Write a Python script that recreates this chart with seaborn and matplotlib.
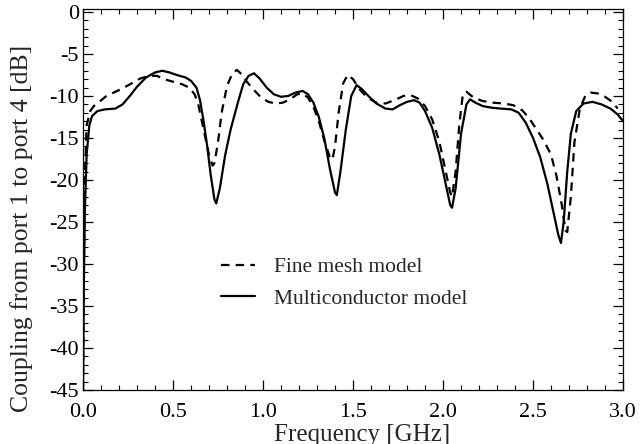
import numpy as np
import pandas as pd
import matplotlib
matplotlib.use("Agg")
import matplotlib.pyplot as plt
from matplotlib.ticker import MultipleLocator
import seaborn as sns

# values (frequency in GHz, coupling in dB)
freq_solid = [0.000, 0.005, 0.010, 0.020, 0.035, 0.05, 0.08, 0.12, 0.18, 0.22,
              0.26, 0.30, 0.35, 0.40, 0.44, 0.48, 0.52, 0.57, 0.60, 0.63,
              0.65, 0.67, 0.69, 0.71, 0.73, 0.74, 0.76, 0.79, 0.82, 0.86,
              0.89, 0.92, 0.95, 0.98, 1.02, 1.06, 1.10, 1.14, 1.18, 1.22,
              1.25, 1.28, 1.31, 1.34, 1.37, 1.40, 1.41, 1.43, 1.46, 1.49,
              1.52, 1.55, 1.59, 1.63, 1.68, 1.72, 1.76, 1.80, 1.84, 1.87,
              1.90, 1.94, 1.98, 2.01, 2.04, 2.05, 2.07, 2.10, 2.13, 2.15,
              2.18, 2.22, 2.27, 2.32, 2.38, 2.42, 2.46, 2.50, 2.54, 2.58,
              2.61, 2.64, 2.655, 2.67, 2.69, 2.71, 2.74, 2.78, 2.83, 2.88,
              2.93, 2.97, 3.00]
db_solid = [-45, -32, -24, -17, -13.5, -12.4, -11.8, -11.6, -11.5, -11.0,
            -10.0, -8.9, -7.8, -7.2, -7.0, -7.2, -7.5, -7.8, -8.2, -9.0,
            -10.5, -13.0, -16.0, -19.5, -22.3, -22.8, -21.0, -17.0, -14.0, -10.8,
            -8.6, -7.6, -7.3, -7.9, -9.0, -9.8, -10.1, -10.0, -9.6, -9.4,
            -9.8, -10.8, -12.5, -15.0, -18.5, -21.5, -21.8, -19.0, -14.0, -10.0,
            -8.7, -9.2, -10.1, -10.9, -11.5, -11.6, -11.1, -10.7, -10.5, -10.8,
            -11.8, -13.8, -17.0, -20.0, -23.0, -23.3, -21.0, -14.5, -11.0, -10.4,
            -10.8, -11.2, -11.4, -11.5, -11.6, -12.0, -13.2, -15.0, -17.3, -20.5,
            -23.5, -26.5, -27.5, -25.0, -19.0, -14.5, -11.8, -10.9, -10.7, -11.0,
            -11.5, -12.2, -13.0]

freq_dash = [0.000, 0.005, 0.010, 0.02, 0.04, 0.06, 0.09, 0.13, 0.18, 0.22,
             0.27, 0.32, 0.37, 0.41, 0.45, 0.50, 0.55, 0.59, 0.62, 0.64,
             0.66, 0.68, 0.70, 0.72, 0.73, 0.75, 0.77, 0.80, 0.83, 0.855,
             0.88, 0.91, 0.95, 0.99, 1.03, 1.07, 1.11, 1.15, 1.19, 1.22,
             1.25, 1.28, 1.31, 1.34, 1.37, 1.385, 1.40, 1.42, 1.445, 1.47,
             1.50, 1.54, 1.58, 1.63, 1.68, 1.73, 1.78, 1.82, 1.86, 1.90,
             1.94, 1.98, 2.01, 2.04, 2.05, 2.07, 2.09, 2.11, 2.13, 2.17,
             2.22, 2.28, 2.34, 2.39, 2.44, 2.48, 2.52, 2.56, 2.60, 2.63,
             2.66, 2.68, 2.69, 2.71, 2.73, 2.76, 2.79, 2.82, 2.86, 2.90,
             2.94, 2.97]
db_dash = [-45, -30, -20, -13.5, -11.8, -11.2, -10.7, -10.0, -9.5, -9.1,
           -8.5, -7.9, -7.6, -7.6, -8.0, -8.3, -8.6, -9.0, -9.8, -11.0,
           -13.0, -15.0, -17.0, -18.3, -18.0, -15.5, -12.0, -8.8, -7.3, -6.9,
           -7.4, -8.3, -9.3, -10.2, -10.7, -10.9, -10.8, -10.4, -9.8, -9.7,
           -10.2, -11.3, -13.0, -15.3, -17.2, -17.6, -16.0, -12.0, -8.5, -7.5,
           -8.0, -9.3, -10.2, -10.8, -10.9, -10.5, -10.0, -9.9, -10.3, -11.2,
           -12.8, -15.5, -18.5, -21.5, -22.0, -19.0, -13.5, -9.8, -9.5, -10.2,
           -10.6, -10.8, -10.9, -11.1, -11.7, -12.7, -14.0, -15.3, -17.0, -19.5,
           -23.0, -26.0, -26.2, -22.0, -15.5, -11.5, -10.0, -9.6, -9.7, -10.1,
           -10.7, -11.5]

label_dash = "Fine mesh model"
label_solid = "Multiconductor model"

df_dash = pd.DataFrame({"f": freq_dash, "db": db_dash})
df_solid = pd.DataFrame({"f": freq_solid, "db": db_solid})

sns.set_style("ticks")
plt.rcParams['font.family'] = ['Liberation Serif', 'DejaVu Serif']
plt.rcParams['axes.unicode_minus'] = False

fig = plt.figure(figsize=(6.41, 4.44), dpi=100)
ax = fig.add_axes([0.1295, 0.1216, 0.8425, 0.8581])

sns.lineplot(data=df_dash, x="f", y="db", ax=ax, color="black", lw=1.6,
             label=label_dash, sort=False)
ax.lines[-1].set_dashes([3.8, 2.8])
sns.lineplot(data=df_solid, x="f", y="db", ax=ax, color="black", lw=1.6,
             label=label_solid, sort=False)

ax.set_xlim(0, 3.0)
ax.set_ylim(-45, 0.35)
ax.xaxis.set_major_locator(MultipleLocator(0.5))
ax.xaxis.set_minor_locator(MultipleLocator(0.1))
ax.yaxis.set_major_locator(MultipleLocator(5))
ax.yaxis.set_minor_locator(MultipleLocator(1))
ax.xaxis.set_major_formatter(matplotlib.ticker.FormatStrFormatter('%.1f'))
ax.tick_params(which='both', direction='in', top=True, right=True,
               labelsize=16, colors='black')
ax.tick_params(which='major', length=7, width=0.9)
ax.tick_params(axis='x', which='major', pad=9)
ax.tick_params(axis='y', which='major', pad=3)
ax.tick_params(which='minor', length=3.5, width=0.8)
for s in ax.spines.values():
    s.set_linewidth(0.9)
    s.set_color('black')

ax.set_xlabel("Frequency [GHz]", fontsize=18)
ax.set_ylabel("Coupling from port 1 to port 4 [dB]", fontsize=18.5)
ax.xaxis.set_label_coords(0.517, -0.088)
ax.yaxis.set_label_coords(-0.092, 0.425)

ax.legend(loc="upper left", bbox_to_anchor=(0.219, 0.40), frameon=False,
          fontsize=15.5, handlelength=1.6, handletextpad=0.9, labelspacing=0.55)

fig.savefig("out.png", dpi=100)
